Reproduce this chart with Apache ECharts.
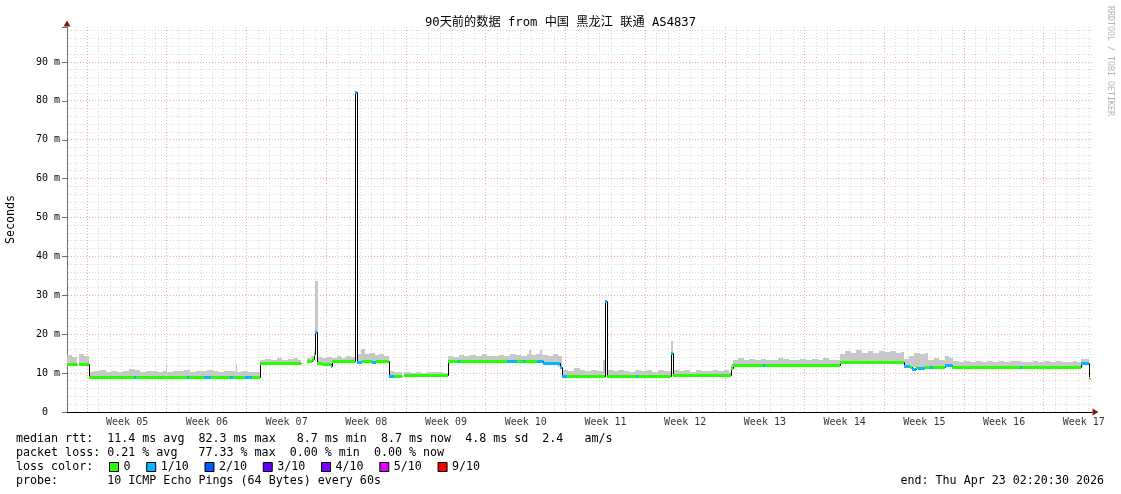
<!DOCTYPE html>
<html><head><meta charset="utf-8">
<script src="https://cdn.jsdelivr.net/npm/echarts@6/dist/echarts.min.js"></script>
<style>html,body{margin:0;padding:0;background:#fff}#c{width:1121px;height:494px}</style>
</head><body><div id="c"></div>
<script>
// ---------------- data ----------------
const chartTitle = '90天前的数据 from 中国 黑龙江 联通 AS4837';
const weekLabels = ['Week 05','Week 06','Week 07','Week 08','Week 09','Week 10','Week 11','Week 12','Week 13','Week 14','Week 15','Week 16','Week 17'];
const yTickValues = [0,10,20,30,40,50,60,70,80,90];
const lossNames = ['0','1/10','2/10','3/10','4/10','5/10','9/10'];
const lossColors = ['#26ff00','#00b8ff','#0059ff','#5e00ff','#7e00ff','#dd00ff','#ff0000'];
// median rtt segments: [startDay, endDay, median ms, loss level index]
const median = [
[0.00,0.88,12.3,0],[1.05,1.89,12.3,0],
[1.89,5.84,9.1,0],[5.84,6.02,9.0,1],[6.02,10.54,9.1,0],[10.54,10.71,9.0,1],[10.71,12.03,9.1,0],[12.03,12.60,9.0,1],
[12.60,14.31,9.1,0],[14.31,14.57,9.0,1],[14.57,15.63,9.1,0],[15.63,16.24,9.0,1],[16.24,16.94,9.1,0],
[16.94,20.54,12.5,0],
[21.07,21.50,13.0,0],[21.50,21.69,13.6,0],[21.69,21.77,14.8,0],[21.77,21.95,20.7,1],[21.95,22.39,12.5,0],[22.39,23.18,12.4,0],[23.18,23.27,11.8,1],
[23.27,25.33,13.1,0],[25.33,25.42,82.3,1],[25.42,25.90,12.9,1],[25.90,26.78,13.0,0],[26.78,27.13,12.9,1],[27.13,28.23,13.0,0],
[28.23,28.71,9.3,1],[28.71,29.41,9.2,0],
[29.63,33.41,9.4,0],
[33.41,34.33,13.1,0],[34.33,34.50,13.1,1],[34.50,38.63,13.1,0],[38.63,39.51,13.0,1],[39.51,40.03,13.1,0],[40.03,40.20,13.0,1],
[40.20,41.26,13.1,0],[41.26,41.79,13.0,1],[41.79,43.28,12.5,1],[43.28,43.50,11.5,1],
[43.50,43.90,9.2,1],[43.90,47.23,9.2,0],[47.23,47.45,28.6,1],[47.45,49.96,9.2,0],[49.96,50.13,9.2,1],[50.13,53.03,9.2,0],
[53.03,53.20,15.3,1],[53.20,58.30,9.4,0],[58.30,58.47,11.2,0],
[58.47,61.10,12.2,0],[61.10,61.28,12.2,1],[61.28,67.87,12.2,0],
[67.87,73.49,12.8,0],
[73.49,74.00,11.9,1],[74.00,74.19,11.6,0],[74.19,74.54,11.1,1],[74.54,74.71,11.6,0],[74.71,75.33,11.4,1],[75.33,75.77,11.6,0],
[75.77,76.03,11.6,1],[76.03,77.09,11.7,0],[77.09,77.70,12.0,1],
[77.70,83.67,11.5,0],[83.67,83.85,11.5,1],[83.85,89.03,11.5,0],
[89.03,89.70,12.5,1],[89.70,89.85,8.7,0]
];
// smoke (ping spread) upper edge: [startDay, top ms]; each bin lasts until the next start
const smoke = [
[0.00,14.7],[0.40,14.1],[0.88,null],[1.05,14.9],[1.45,14.3],
[1.89,10.3],[2.40,10.6],[2.90,10.8],[3.40,10.4],[3.90,10.6],[4.40,10.3],[4.90,10.5],[5.40,11.1],[5.90,10.8],[6.40,10.4],
[6.90,10.6],[7.40,10.5],[7.90,10.3],[8.40,10.5],[8.66,12.1],[8.78,10.4],[9.30,10.6],[9.80,10.5],[10.30,10.7],[10.80,10.4],
[11.30,10.6],[11.80,10.5],[12.30,10.9],[12.80,10.6],[13.30,10.3],[13.80,10.5],[14.30,10.6],[14.82,12.3],[14.94,10.4],
[15.40,10.5],[15.90,10.3],[16.40,10.2],
[16.94,13.5],[17.40,13.7],[17.90,13.4],[18.40,13.8],[18.90,13.5],[19.40,13.6],[19.90,13.9],[20.30,13.5],[20.54,null],
[21.07,13.9],[21.40,14.3],[21.69,15.6],[21.77,33.7],[22.04,14.1],[22.40,13.8],[22.80,14.2],[23.27,14.0],[23.70,14.3],
[24.10,13.9],[24.50,14.4],[24.90,14.1],[25.33,82.3],[25.42,15.0],[25.80,16.2],[26.20,14.8],[26.60,15.1],[27.00,14.6],
[27.40,14.9],[27.80,14.5],
[28.23,10.5],[28.70,10.3],[29.10,10.4],[29.41,null],
[29.63,10.2],[30.10,10.0],[30.60,10.3],[31.10,10.1],[31.60,10.4],[32.10,10.2],[32.60,10.3],[33.00,10.1],
[33.41,14.5],[33.90,14.2],[34.40,14.7],[34.90,14.4],[35.40,14.6],[35.90,14.3],[36.40,14.8],[36.90,14.5],[37.40,14.4],
[37.90,14.7],[38.40,14.5],[38.90,14.9],[39.40,14.6],[39.90,14.4],[40.40,14.8],[40.60,16.0],[40.75,14.7],[41.20,14.9],
[41.55,16.0],[41.70,14.6],[42.20,14.5],[42.70,14.8],[43.10,14.3],
[43.50,10.9],[44.00,10.6],[44.50,11.2],[45.00,10.7],[45.50,10.5],[46.00,10.9],[46.50,10.6],[47.05,13.4],[47.23,28.6],
[47.45,10.8],[47.90,10.5],[48.40,10.9],[48.90,10.6],[49.40,10.4],[49.90,10.8],[50.40,10.5],[50.90,10.7],[51.40,10.4],
[51.90,10.8],[52.40,10.6],[52.80,10.5],[53.03,18.3],[53.20,10.8],[53.70,10.5],[54.20,10.7],[54.70,10.4],[55.20,10.9],
[55.70,10.6],[56.20,10.5],[56.70,10.8],[57.20,10.5],[57.70,10.7],[58.10,10.4],
[58.30,12.4],[58.47,13.5],[58.90,13.8],[59.40,13.4],[59.90,13.6],[60.40,13.3],[60.90,13.7],[61.40,13.5],[61.90,13.4],
[62.40,13.8],[62.90,13.6],[63.40,13.3],[63.90,13.5],[64.40,13.7],[64.90,13.4],[65.40,13.6],[65.90,13.5],[66.40,13.8],
[66.90,13.4],[67.40,13.5],
[67.87,14.9],[68.30,15.8],[68.80,15.3],[69.30,15.9],[69.80,15.1],[70.30,15.6],[70.80,15.2],[71.30,15.7],[71.80,15.4],
[72.30,15.8],[72.80,15.3],[73.20,15.5],
[73.49,13.6],[73.90,14.3],[74.40,15.1],[74.90,14.8],[75.30,15.2],[75.60,13.4],[76.10,13.8],[76.60,13.5],[77.10,14.4],[77.40,13.9],
[77.79,13.0],[78.30,12.8],[78.80,13.1],[79.30,12.9],[79.80,13.2],[80.30,12.9],[80.80,13.0],[81.30,12.8],[81.80,13.1],
[82.30,12.9],[82.80,13.0],[83.30,13.2],[83.80,12.9],[84.30,12.8],[84.80,13.0],[85.30,12.9],[85.80,13.1],[86.30,12.8],
[86.80,13.0],[87.30,12.9],[87.80,12.8],[88.30,13.0],[88.70,12.9],
[89.03,13.6],[89.70,8.9],[89.85,null]
];
const statsLines = [
  'median rtt:  11.4 ms avg  82.3 ms max   8.7 ms min  8.7 ms now  4.8 ms sd  2.4   am/s',
  'packet loss: 0.21 % avg   77.33 % max  0.00 % min  0.00 % now',
  'loss color:',
  'probe:       10 ICMP Echo Pings (64 Bytes) every 60s'
];
const endText = 'end: Thu Apr 23 02:20:30 2026';
const watermark = 'RRDTOOL / TOBI OETIKER';

// ---------------- layout constants ----------------
const MONO = "'DejaVu Sans Mono', monospace";
const totalDays = 90;
const firstWeekLine = 1.78;   // day offset of the first week boundary
const firstDayLine = 0.78;

function medianAt(t){ for (const s of median){ if (t >= s[0] && t < s[1]) return s[2]; } return null; }
const smokeData = [];
smoke.forEach((b,i)=>{
  if (b[1] === null) return;
  const end = i+1 < smoke.length ? smoke[i+1][0] : totalDays;
  const bot = medianAt((b[0]+end)/2);
  if (bot === null) return;
  smokeData.push([b[0], end, bot, Math.max(b[1], bot)]);
});
const medLineData = median.map((s,i)=>{
  const pv = (i>0 && Math.abs(median[i-1][1]-s[0]) < 1e-6) ? median[i-1][2] : s[2];
  return [s[0], s[1], s[2], pv];
});
const gridData = [];
for (let k=0; firstDayLine + k < totalDays; k++){ gridData.push([0, firstDayLine + k, ((k-1) % 7 === 0) ? 1 : 0]); }
for (let v=2; v<99; v+=2){ gridData.push([1, v, v % 10 === 0 ? 1 : 0]); }
const weekPos = weekLabels.map((w,i)=>[firstWeekLine + 3.5 + 7*i, 0]);

const chart = echarts.init(document.getElementById('c'), null, {renderer:'canvas'});

const lossSeries = lossNames.map((nm, li)=>({
  type:'custom', name:nm, coordinateSystem:'cartesian2d', z:6, silent:true,
  itemStyle:{color:lossColors[li]}, encode:{x:[0,1], y:2},
  data: median.filter(s=>s[3]===li).map(s=>[s[0],s[1],s[2]]),
  renderItem:(params, api)=>{
    const a = api.coord([api.value(0), api.value(2)]);
    const b = api.coord([api.value(1), api.value(2)]);
    const x0 = Math.round(a[0]), x1 = Math.max(Math.round(b[0]), x0+1);
    const y = Math.round(a[1]);
    return {type:'rect', shape:{x:x0, y:y-1, width:x1-x0, height:3}, style:{fill:lossColors[li]}};
  }
}));

chart.setOption({
  animation:false, backgroundColor:'#ffffff',
  title:{text:chartTitle, left:'center', top:17, padding:0,
    textStyle:{fontFamily:MONO+", 'Noto Sans CJK SC'", fontSize:12.2, fontWeight:'normal', color:'#000'}},
  grid:{left:67, right:29, top:27, bottom:82, containLabel:false, outerBoundsMode:'none'},
  legend:{left:109, top:461, padding:0, itemWidth:9, itemHeight:9, itemGap:15.7, selectedMode:false,
    textStyle:{fontFamily:MONO, fontSize:11.66, color:'#000'},
    data: lossNames.map((n,i)=>({name:n, icon:'rect', itemStyle:{color:lossColors[i], borderColor:'#000', borderWidth:1}}))},
  xAxis:{type:'value', min:0, max:totalDays, axisLine:{show:true, lineStyle:{color:'#000', width:1}},
    axisTick:{show:false}, axisLabel:{show:false}, splitLine:{show:false}},
  yAxis:{type:'value', min:0, max:99, interval:10, name:'Seconds', nameLocation:'middle', nameGap:50,
    nameTextStyle:{fontFamily:MONO, fontSize:11.66, color:'#000'},
    axisLine:{show:true, lineStyle:{color:'#707070'}}, axisTick:{show:true, length:5, lineStyle:{color:'#707070'}},
    axisLabel:{margin:7, fontFamily:MONO, fontSize:10, color:'#000',
      formatter:v=> v===0 ? '0  ' : (yTickValues.indexOf(v) >= 0 ? v+' m' : '')},
    splitLine:{show:false}},
  series:[
    {type:'custom', name:'grid', silent:true, z:1, encode:{x:1, y:1}, data:gridData,
      renderItem:(params, api)=>{
        const cs = params.coordSys;
        const kind = api.value(0), val = api.value(1), major = api.value(2);
        const stroke = major ? '#f3a8a8' : '#d9d9d9';
        if (kind === 0){
          const x = Math.floor(api.coord([val,0])[0]) + 0.5;
          return {type:'line', shape:{x1:x, y1:cs.y, x2:x, y2:cs.y+cs.height}, style:{stroke, lineWidth:1, lineDash:[1,2]}};
        }
        const y = Math.floor(api.coord([0,val])[1]) + 0.5;
        return {type:'line', shape:{x1:cs.x+1, y1:y, x2:cs.x+cs.width, y2:y}, style:{stroke, lineWidth:1, lineDash:[1,2]}};
      }},
    {type:'custom', name:'smoke', silent:true, z:2, encode:{x:[0,1], y:[2,3]}, data:smokeData,
      renderItem:(params, api)=>{
        const a = api.coord([api.value(0), api.value(3)]);
        const b = api.coord([api.value(1), api.value(2)]);
        const x0 = Math.round(a[0]), x1 = Math.max(Math.round(b[0]), x0+1);
        const y0 = Math.round(a[1]), y1 = Math.round(b[1]);
        return {type:'rect', shape:{x:x0, y:y0, width:x1-x0, height:Math.max(y1-y0,0)}, style:{fill:'#c8c8c8'}};
      }},
    {type:'custom', name:'median', silent:true, z:4, encode:{x:[0,1], y:[2,3]}, data:medLineData,
      renderItem:(params, api)=>{
        const a = api.coord([api.value(0), api.value(2)]);
        const b = api.coord([api.value(1), api.value(2)]);
        const p = api.coord([api.value(0), api.value(3)]);
        const x0 = Math.round(a[0]) + 0.5, x1 = Math.max(Math.round(b[0]), Math.round(a[0])+1) + 0.5;
        const y = Math.round(a[1]) + 0.5, yp = Math.round(p[1]) + 0.5;
        return {type:'polyline', shape:{points:[[x0,yp],[x0,y],[x1,y]]}, style:{stroke:'#000', lineWidth:1, fill:null}};
      }},
    ...lossSeries,
    {type:'scatter', name:'weeks', data:weekPos, symbolSize:1, silent:true, clip:false, z:7,
      itemStyle:{color:'rgba(0,0,0,0)'},
      label:{show:true, position:'bottom', distance:5, fontFamily:MONO, fontSize:10, color:'#000', formatter:p=>weekLabels[p.dataIndex]}}
  ],
  graphic:[
    {type:'polygon', shape:{points:[[67,20.5],[63.5,26.5],[70.5,26.5]]}, style:{fill:'#7a1a1a'}, silent:true},
    {type:'polygon', shape:{points:[[1098.5,412],[1092.5,408.5],[1092.5,415.5]]}, style:{fill:'#7a1a1a'}, silent:true},
    ...statsLines.map((t,i)=>({type:'text', x:16, y:438.5+14*i, silent:true,
      style:{text:t, font:'11.66px '+MONO, fill:'#000', align:'left', verticalAlign:'middle', textAlign:'left', textVerticalAlign:'middle'}})),
    {type:'text', x:1104, y:480.5, silent:true,
      style:{text:endText, font:'11.66px '+MONO, fill:'#000', align:'right', verticalAlign:'middle', textAlign:'right', textVerticalAlign:'middle'}},
    {type:'text', x:1110.5, y:6, rotation:-Math.PI/2, silent:true,
      style:{text:watermark, font:'8.3px '+MONO, fill:'#b4b4b4', align:'left', verticalAlign:'middle', textAlign:'left', textVerticalAlign:'middle'}}
  ]
});
</script></body></html>
